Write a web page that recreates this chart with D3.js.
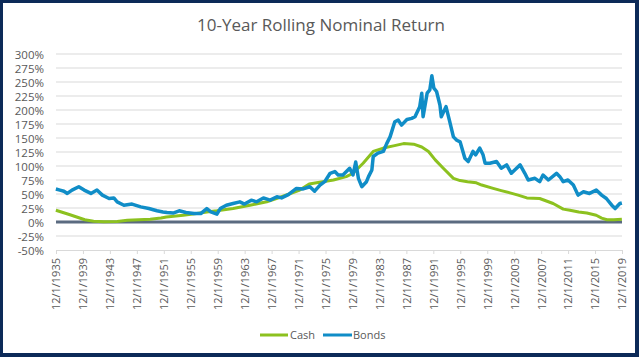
<!DOCTYPE html>
<html><head><meta charset="utf-8">
<script src="https://cdn.jsdelivr.net/npm/d3@7"></script>
<style>
html,body{margin:0;padding:0;background:#fff;}
svg{display:block;}
text{font-family:"Open Sans","Liberation Sans",Arial,sans-serif;fill:#595959;}
</style></head>
<body>
<script>
const title = "10-Year Rolling Nominal Return";
const yTicks = [-50,-25,0,25,50,75,100,125,150,175,200,225,250,275,300];
const xTickYears = [1935,1939,1943,1947,1951,1955,1959,1963,1967,1971,1975,1979,1983,1987,1991,1995,1999,2003,2007,2011,2015,2019];
const seriesNames = ["Cash","Bonds"];

const cashDates = [1935.9,1938,1940.2,1941.5,1943,1945,1946.5,1949.9,1951.5,1952.3,1954.8,1956.8,1958.3,1959.8,1962.2,1964.7,1967.2,1969.6,1972.1,1973.5,1974.6,1977.1,1979,1980,1981.5,1983,1984.5,1986,1987.5,1989,1990.2,1991.2,1992.2,1993.4,1994.9,1995.9,1997.0,1998.3,1999.1,2000.8,2002.0,2003.3,2004.5,2005.8,2007.7,2009.7,2011.2,2012.2,2013.5,2014.7,2016.1,2016.9,2017.7,2018.7,2019.9];
const cashValues = [21,13,4,1.5,0.5,1,3,5,7,9,12,15,18,20,24,30,36,46,57,68,70,75,81,87,105,126,132,136,140,139,134,126,111,96,78,74,72,70,66,60,56,52,48,43,42,33,23,21,18,16,12,7,4,4,5];

const bondDates = [1935.9,1936.5,1937.1,1937.6,1938.3,1939.3,1940.1,1941.1,1942.0,1942.8,1943.8,1944.5,1945.0,1946.0,1947.2,1948.5,1949.7,1950.9,1951.8,1952.4,1953.3,1954.2,1955.2,1956.4,1957.4,1958.3,1958.9,1959.8,1960.3,1961.2,1962.2,1963.2,1963.9,1964.9,1965.7,1966.7,1967.7,1968.7,1969.4,1970.4,1971.6,1972.6,1973.6,1974.3,1975.1,1975.8,1976.6,1977.3,1977.8,1978.5,1979.5,1980.0,1980.4,1980.8,1981.3,1982.0,1982.3,1982.8,1983.0,1983.7,1984.5,1985.0,1985.5,1986.2,1986.7,1987.2,1988.0,1988.7,1989.2,1989.9,1990.2,1990.4,1991.0,1991.4,1991.7,1992.0,1992.4,1992.9,1993.1,1993.8,1994.3,1994.9,1995.4,1995.9,1996.6,1997.1,1997.8,1998.2,1998.8,1999.3,1999.6,2000.3,2001.3,2002.0,2002.8,2003.5,2004.0,2004.8,2005.5,2006.0,2007.0,2007.7,2008.2,2009.0,2010.2,2010.7,2011.2,2011.9,2012.7,2013.4,2014.2,2015.1,2016.1,2016.9,2017.6,2018.4,2018.9,2019.6,2019.9];
const bondValues = [59,57,55,51,57,63,57,51,57,48,42,43,36,30,32,27,24,20,18,17,16,20,17,15,15,24,18,14,24,30,33,36,32,39,36,43,39,45,43,49,60,59,63,55,66,72,87,90,84,84,96,84,107,78,63,72,81,93,117,123,126,140,152,179,182,173,183,185,188,206,230,188,230,236,261,239,233,209,188,206,182,152,146,143,114,108,126,120,132,120,105,105,108,96,102,87,93,102,87,75,78,72,84,75,87,81,72,75,66,48,54,51,57,48,42,30,24,33,34];

const W = 639, H = 357;
const svg = d3.select("body").append("svg").attr("width", W).attr("height", H);
svg.append("rect").attr("x",0).attr("y",0).attr("width",W).attr("height",H).attr("fill","#0c2a58");
svg.append("rect").attr("x",3).attr("y",3).attr("width",632).attr("height",350).attr("fill","#fff");

const x = d3.scaleLinear().domain([1935.92, 2019.92]).range([56, 622]);
const y = d3.scaleLinear().domain([-50, 300]).range([250, 54]);

svg.append("text").attr("x", 321).attr("y", 31).attr("text-anchor","middle")
  .style("font-size","17px").text(title);

// gridlines
svg.append("g").selectAll("line").data(yTicks.filter(v => v !== -50 && v !== 0)).join("line")
  .attr("x1", 56).attr("x2", 622).attr("y1", d => y(d)).attr("y2", d => y(d))
  .attr("stroke", "#d9d9d9").attr("stroke-width", 1);

// y axis labels
const yAxis = d3.axisLeft(y).tickValues(yTicks).tickFormat(d => d + "%").tickSize(0).tickPadding(0);
const ya = svg.append("g").attr("transform", "translate(44,0)").call(yAxis);
ya.select(".domain").remove();
ya.selectAll("text").style("font-size","11.5px").attr("fill","#595959").attr("dy","0.35em");

// x axis at bottom
const xAxis = d3.axisBottom(x).tickValues(xTickYears.map(v => v + 0.92)).tickFormat(d => "12/1/" + Math.round(d - 0.92)).tickSizeInner(4).tickSizeOuter(0).tickPadding(4);
const xa = svg.append("g").attr("transform", `translate(0,${y(-50)})`).call(xAxis);
xa.select(".domain").attr("stroke","#d9d9d9");
xa.selectAll(".tick line").attr("stroke","#d9d9d9");
xa.selectAll("text").style("font-size","11px").attr("fill","#595959")
  .attr("transform","rotate(-90)").attr("text-anchor","end").attr("x",-8).attr("y",0).attr("dy","0.35em");

// zero line
svg.append("line").attr("x1",56).attr("x2",622).attr("y1",y(0)).attr("y2",y(0))
  .attr("stroke","#5b6b80").attr("stroke-width",3);

const line = d3.line().x(d => x(d[0])).y(d => y(d[1]));
const cash = cashDates.map((d,i) => [d, cashValues[i]]);
const bonds = bondDates.map((d,i) => [d, bondValues[i]]);
const colors = {Cash:"#8cc11f", Bonds:"#108dc7"};

svg.append("path").datum(cash).attr("d", line).attr("fill","none").attr("stroke",colors.Cash).attr("stroke-width",3).attr("stroke-linejoin","round");
svg.append("path").datum(bonds).attr("d", line).attr("fill","none").attr("stroke",colors.Bonds).attr("stroke-width",3.5).attr("stroke-linejoin","round");

// legend
const leg = [{n:"Cash", x1:260, x2:288, tx:290},{n:"Bonds", x1:323, x2:352, tx:353}];
leg.forEach(l => {
  svg.append("line").attr("x1",l.x1).attr("x2",l.x2).attr("y1",335).attr("y2",335).attr("stroke",colors[l.n]).attr("stroke-width",3);
  svg.append("text").attr("x",l.tx).attr("y",335).attr("dy","0.35em").style("font-size","11px").text(l.n);
});
</script>
</body></html>
